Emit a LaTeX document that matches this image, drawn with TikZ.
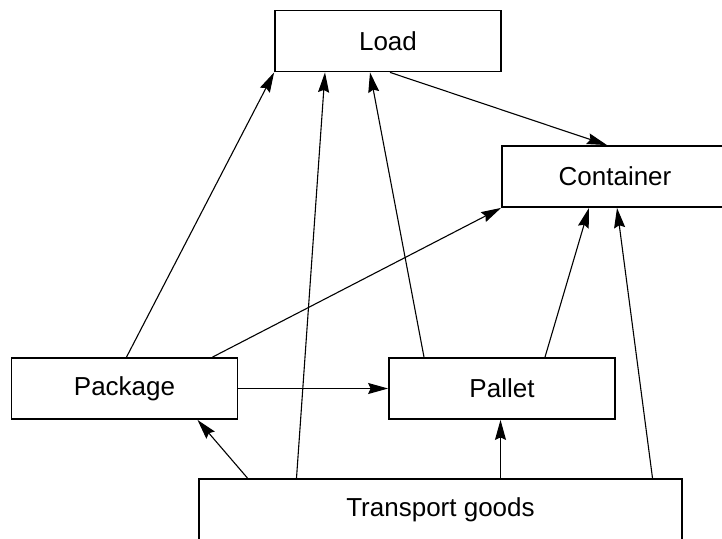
\documentclass[tikz,border=0pt]{standalone}
\usepackage{fontspec}
\setmainfont{Liberation Sans}
\usetikzlibrary{arrows.meta,positioning}

\begin{document}
\begin{tikzpicture}[x=1pt,y=-1pt,
    box/.style={draw,line width=1.8pt,minimum width=226pt,minimum height=61pt,
                inner sep=0pt,font=\fontsize{26}{30}\selectfont},
    >={Stealth[length=20pt,width=11pt,inset=2.5pt]}]
   \clip (0,0) rectangle (722,538);
   \fill[white] (0,0) rectangle (722,538);
   \node[box] (load)      at (388,41)      {Load};
   \node[box] (container) at (615,176.5)   {Container};
   \node[box] (package)   at (124.5,388.5) {Package};
   \node[box] (pallet)    at (502,388.5)   {Pallet};
   \node[box,minimum width=483pt] (goods) at (440.5,509.5) {Transport goods};
    \path[->,line width=1.1pt]
    ([xshift=2pt]package.north) edge (load.south west)
    ([xshift=88pt]package.north) edge (container.south west)
    (package.east) edge (pallet.west)
    ([xshift=2pt]load.south) edge ([xshift=-8pt]container.north)
    ([xshift=-78pt]pallet.north) edge ([xshift=-18pt]load.south)
    ([xshift=43pt]pallet.north) edge ([xshift=-26pt]container.south)
    ([xshift=-193pt]goods.north) edge ([xshift=73pt]package.south)
    ([xshift=-144pt]goods.north) edge ([xshift=-63pt]load.south)
    ([xshift=-1.5pt]pallet.south |- goods.north) edge ([xshift=-1.5pt]pallet.south)
    ([xshift=212pt]goods.north) edge ([xshift=2pt]container.south);
\end{tikzpicture}
\end{document}
